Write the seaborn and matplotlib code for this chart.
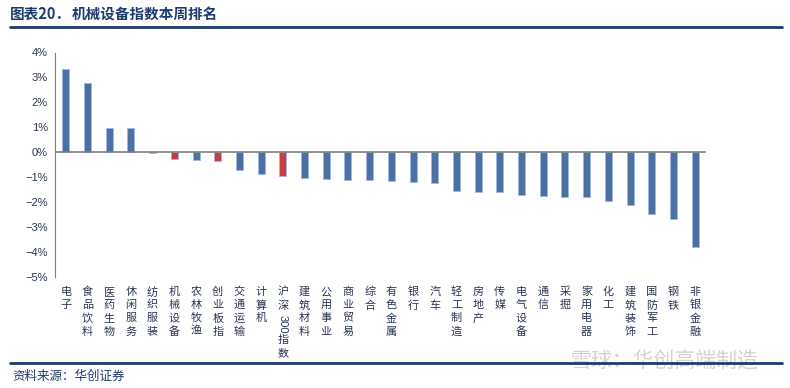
import re
import matplotlib
matplotlib.use('Agg')
import matplotlib.pyplot as plt
from matplotlib.lines import Line2D
from matplotlib.ticker import FuncFormatter
import seaborn as sns

# data (weekly change, %)
categories = ['电子', '食品饮料', '医药生物', '休闲服务', '纺织服装', '机械设备', '农林牧渔',
              '创业板指', '交通运输', '计算机', '沪深300指数', '建筑材料', '公用事业', '商业贸易',
              '综合', '有色金属', '银行', '汽车', '轻工制造', '房地产', '传媒', '电气设备',
              '通信', '采掘', '家用电器', '化工', '建筑装饰', '国防军工', '钢铁', '非银金融']
values = [3.35, 2.76, 0.98, 0.98, -0.03, -0.25, -0.31,
          -0.35, -0.72, -0.86, -0.95, -1.04, -1.06, -1.10,
          -1.11, -1.15, -1.18, -1.22, -1.55, -1.58, -1.59, -1.70,
          -1.75, -1.79, -1.79, -1.94, -2.10, -2.48, -2.68, -3.79]
highlight = ['机械设备', '创业板指', '沪深300指数']
y_ticks = [-5, -4, -3, -2, -1, 0, 1, 2, 3, 4]

BLUE = '#3D6CB3'
RED = '#E3242B'
NAVY = '#1F3A6E'
TEXT = '#2B3553'

sns.set_style('white')
plt.rcParams['font.family'] = ['Noto Sans CJK SC', 'DejaVu Sans']

fig = plt.figure(figsize=(7.9, 3.88), dpi=100)
ax = fig.add_axes([55 / 790, 1 - 277 / 388, 651 / 790, 224.5 / 388])

colors = [RED if c in highlight else BLUE for c in categories]
sns.barplot(x=categories, y=values, hue=categories, palette=colors, legend=False,
            width=0.32, edgecolor='#9DB8E3', linewidth=0.6, ax=ax)

ax.axhline(0, color='#7F7F7F', lw=1.2, zorder=3)
ax.set_ylim(-5, 4)
ax.set_xlim(-0.5, len(categories) - 0.5)
ax.set_yticks(y_ticks)
ax.yaxis.set_major_formatter(FuncFormatter(lambda v, p: f'{v:.0f}%'.replace('-', '\u2212')))
ax.tick_params(axis='y', direction='out', length=3, width=0.8, color='#7F7F7F',
               labelsize=8, labelcolor=TEXT, pad=2)
for lab in ax.get_yticklabels():
    lab.set_family(['Liberation Sans', 'DejaVu Sans'])
ax.set_xticks([])
ax.set_xlabel('')
ax.set_ylabel('')
for side in ['top', 'right', 'bottom']:
    ax.spines[side].set_visible(False)
ax.spines['left'].set_color('#7F7F7F')
ax.spines['left'].set_linewidth(0.8)

# vertical (stacked) category labels under the axes
for i, label in enumerate(categories):
    offset = 7.0
    for token in re.findall(r'\d+|.', label):
        if token.isdigit():
            ax.annotate(token, xy=(i, 0), xycoords=('data', 'axes fraction'),
                        xytext=(0, -offset - 1), textcoords='offset points',
                        ha='center', va='top', rotation=-90, fontsize=8, color=TEXT,
                        family=['Liberation Sans', 'DejaVu Sans'])
            offset += len(token) * 4.6 + 2
        else:
            ax.annotate(token, xy=(i, 0), xycoords=('data', 'axes fraction'),
                        xytext=(0, -offset), textcoords='offset points',
                        ha='center', va='top', fontsize=8, color=TEXT)
            offset += 9.6

# header, rules, source and watermark
fig.text(10 / 790, 1 - 14 / 388, '图表20．', fontsize=10.5, weight='bold', color=NAVY, va='center')
fig.text(72 / 790, 1 - 14 / 388, '机械设备指数本周排名', fontsize=10.5, weight='bold',
         color=NAVY, va='center')
fig.add_artist(Line2D([10 / 790, 782 / 790], [1 - 26.7 / 388] * 2, color=NAVY, lw=2))
fig.text(570 / 790, 1 - 362 / 388, '雪球：华创高端制造', fontsize=15, color='#D2D2D2',
         va='center', zorder=0)
fig.add_artist(Line2D([10 / 790, 782 / 790], [1 - 362.7 / 388] * 2, color=NAVY, lw=2))
fig.text(12 / 790, 1 - 376 / 388, '资料来源：华创证券', fontsize=9, style='italic',
         color=NAVY, va='center')

fig.savefig('out.png', dpi=100)
